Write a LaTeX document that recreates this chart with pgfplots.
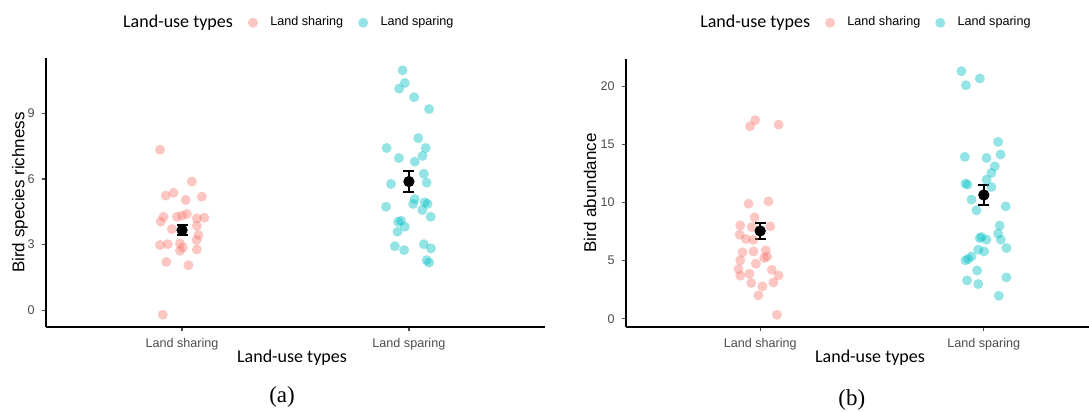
\documentclass[border=0pt]{standalone}
\usepackage{fontspec}
\setmainfont{Liberation Sans}
\newfontfamily\carlito{Carlito}
\newfontfamily\tnr{Liberation Serif}
\usepackage{pgfplots}
\usepackage{pgfplotstable}
\pgfplotsset{compat=1.18}
\definecolor{shr}{HTML}{F8766D}
\definecolor{spr}{HTML}{00BFC4}
\definecolor{tickgray}{HTML}{4D4D4D}

\pgfplotstableread{
x y
0.903 7.33
1.043 5.88
0.928 5.24
0.962 5.37
1.016 5.04
1.087 5.19
0.918 4.27
0.906 4.05
0.977 4.27
0.999 4.32
1.021 4.40
1.065 4.20
1.098 4.23
0.955 3.71
1.065 3.86
1.072 3.44
1.064 3.21
0.903 2.98
0.937 3.02
0.991 3.05
1.003 2.87
0.991 2.72
1.065 2.78
0.930 2.21
1.028 2.06
0.915 -0.20
}\richShare

\pgfplotstableread{
x y
1.972 10.96
1.982 10.38
1.957 10.12
2.023 9.73
2.089 9.19
2.041 7.86
1.902 7.41
2.074 7.41
1.956 6.95
2.060 7.05
2.026 6.79
2.066 6.23
1.921 5.77
2.078 5.83
1.899 4.73
2.026 5.08
2.019 4.86
2.070 4.93
2.082 4.86
2.059 4.58
2.096 4.27
1.953 4.04
1.965 4.09
1.982 3.82
1.950 3.59
1.938 2.93
1.979 2.75
2.066 3.02
2.097 2.83
2.078 2.29
2.089 2.18
}\richSpare

\pgfplotstableread{
x y
0.978 17.10
0.955 16.58
1.082 16.72
0.948 9.91
1.037 10.11
0.975 8.73
0.911 8.04
0.963 7.90
1.045 7.96
0.908 7.24
0.936 6.87
0.969 6.80
0.921 5.72
0.970 5.80
1.025 5.89
1.018 5.23
1.031 5.35
0.981 4.74
0.911 5.03
0.903 4.28
0.911 3.71
0.952 3.88
1.052 4.22
1.082 3.73
0.960 3.08
1.010 2.79
1.059 3.13
0.992 2.01
1.075 0.34
}\abunShare

\pgfplotstableread{
x y
1.900 21.32
1.920 20.11
1.982 20.69
2.064 15.23
1.915 13.94
2.012 13.85
2.075 14.14
2.049 13.13
2.034 12.56
1.918 11.64
1.927 11.55
2.012 11.98
2.034 11.35
1.945 10.26
1.967 9.34
2.098 9.68
2.071 8.02
1.990 7.04
2.012 6.81
2.064 7.33
1.982 6.95
2.076 6.81
2.101 6.09
1.975 5.95
2.001 5.80
1.945 5.37
1.918 5.03
1.930 5.15
1.970 4.16
1.925 3.30
1.975 2.99
2.101 3.56
2.067 1.98
}\abunSpare

\pgfplotstableread{
x y e
1 3.66 0.24
2 5.88 0.46
}\richMean

\pgfplotstableread{
x y e
1 7.56 0.69
2 10.66 0.89
}\abunMean

\pgfplotsset{
  gg/.style={
    scale only axis, clip=false,
    xmin=0.4, xmax=2.6,
    axis x line*=bottom, axis y line*=left,
    axis line style={-, line width=1pt, black},
    xtick={1,2}, xticklabels={Land sharing, Land sparing},
    tick align=outside, major tick length=2.2pt,
    tick style={line width=0.6pt, color=tickgray},
    ticklabel style={font=\fontsize{6.3}{7}\selectfont, text=tickgray},
    /pgf/number format/assume math mode=true,
    xlabel={\carlito Land-use types},
    xlabel style={font=\fontsize{9}{10}\selectfont, anchor=center},
    ylabel style={font=\fontsize{8.5}{9}\selectfont, anchor=center},
    legend columns=3,
    legend style={draw=none, fill=none, inner sep=0pt, anchor=west,
      font=\fontsize{6.3}{7}\selectfont,
      /tikz/every odd column/.append style={column sep=4.2pt},
      /tikz/every even column/.append style={column sep=5.5pt}},
  },
  ptA/.style={only marks, mark=*, mark size=2.5pt, color=shr,
     mark options={draw opacity=0, fill=shr, fill opacity=0.42},
     legend image code/.code={\draw[#1] plot coordinates {(0pt,0pt)};}},
  ptB/.style={only marks, mark=*, mark size=2.5pt, color=spr,
     mark options={draw opacity=0, fill=spr, fill opacity=0.42},
     legend image code/.code={\draw[#1] plot coordinates {(0pt,0pt)};}},
  meanpt/.style={only marks, mark=*, mark size=2.6pt, black, forget plot,
     error bars/.cd, y dir=both, y explicit,
     error bar style={line width=1pt, black},
     error mark options={rotate=90, mark size=2.75pt, line width=1pt, black}},
}

\begin{document}
\begin{tikzpicture}
\begin{axis}[gg,
  at={(23pt,42.5pt)}, anchor=south west,
  width=249.5pt, height=134.5pt,
  ymin=-0.76, ymax=11.52, ytick={0,3,6,9},
  ylabel={Bird species richness},
  ylabel style={at={(axis description cs:-0.052,0.5)}},
  xlabel style={at={(axis description cs:0.493,-0.115)}},
  legend style={at={(axis description cs:0.129,1.131)}},
]
\addlegendimage{empty legend}
\addlegendentry{\carlito\fontsize{9}{10}\selectfont Land-use types}
\addplot[ptA] table[x=x,y=y] {\richShare};
\addlegendentry{Land sharing}
\addplot[ptB] table[x=x,y=y] {\richSpare};
\addlegendentry{Land sparing}
\addplot[meanpt] table[x=x,y=y,y error=e] {\richMean};
\node[font=\tnr\fontsize{11.5}{13}\selectfont] at (axis description cs:0.473,-0.26) {(a)};
\end{axis}

\begin{axis}[gg,
  at={(313pt,42.5pt)}, anchor=south west,
  width=246pt, height=134pt,
  ymin=-0.71, ymax=22.37, ytick={0,5,10,15,20},
  ylabel={Bird abundance},
  ylabel style={at={(axis description cs:-0.073,0.5)}},
  xlabel style={at={(axis description cs:0.496,-0.116)}},
  legend style={at={(axis description cs:0.125,1.135)}},
]
\addlegendimage{empty legend}
\addlegendentry{\carlito\fontsize{9}{10}\selectfont Land-use types}
\addplot[ptA] table[x=x,y=y] {\abunShare};
\addlegendentry{Land sharing}
\addplot[ptB] table[x=x,y=y] {\abunSpare};
\addlegendentry{Land sparing}
\addplot[meanpt] table[x=x,y=y,y error=e] {\abunMean};
\node[font=\tnr\fontsize{11.5}{13}\selectfont] at (axis description cs:0.459,-0.272) {(b)};
\end{axis}
\pgfresetboundingbox
\path (0,0) rectangle (544.5pt,206pt);
\end{tikzpicture}
\end{document}
